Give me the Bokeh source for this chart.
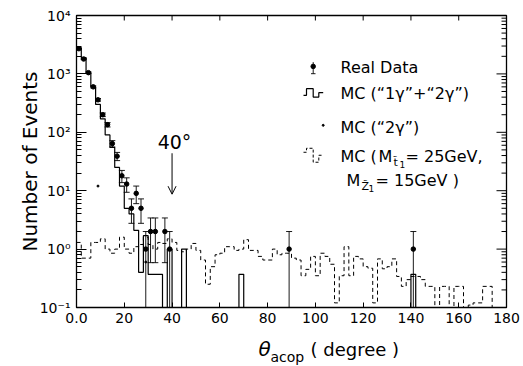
import numpy as np
from bokeh.plotting import figure
from bokeh.layouts import column
from bokeh.models import (FixedTicker, Whisker, TeeHead, ColumnDataSource, Label, Arrow,
                          OpenHead, Range1d)
from bokeh.embed import file_html
from bokeh.resources import INLINE

FONT = "DejaVu Sans"

# ---------------- data ----------------
bin_edges = list(range(0, 182, 2))  # 2-degree bins

# MC ("1gamma"+"2gamma"), per 2-degree bin (0 -> empty bin)
mc_total = [2800, 1900, 1050, 600, 300, 170, 90, 55, 25, 12,
            5, 4, 2.1, 0.4, 1.7, 0.37, 0.37, 0.37, 0, 1.0,
            0, 0, 1.0, 0, 0, 0, 0, 0, 0, 0,
            0, 0, 0, 0, 0.37, 0, 0, 0, 0, 0,
            0, 0, 0, 0, 0, 0, 0, 0, 0, 0,
            0, 0, 0, 0, 0, 0, 0, 0, 0, 0,
            0, 0, 0, 0, 0, 0, 0, 0, 0, 0,
            0.37, 0, 0, 0, 0, 0, 0, 0, 0, 0,
            0, 0, 0, 0, 0, 0, 0, 0, 0, 0]

# MC (M_stop = 25 GeV, M_Z1 = 15 GeV), per 2-degree bin
mc_susy = [1.3, 0.7, 0.7, 1.3, 1.3, 1.5, 1.0, 0.85, 1.0, 1.6,
           1.0, 0.85, 1.1, 1.2, 1.6, 1.2, 1.0, 1.3, 1.25, 1.5,
           1.3, 0.95, 0.9, 1.0, 1.25, 0.95, 0.65, 0.25, 0.5, 0.8,
           0.85, 1.1, 1.1, 0.95, 1.0, 1.45, 0.95, 0.95, 0.75, 0.65,
           0.65, 1.0, 0.8, 0.85, 0.85, 0.7, 0.65, 0.35, 0.45, 0.75,
           0.35, 0.85, 0.75, 0.55, 0.12, 0.35, 1.1, 0.35, 0.75, 0.68,
           0.5, 0.47, 0.12, 0.68, 0.46, 0.5, 0.68, 0.34, 0.23, 0.3,
           0.34, 0.34, 0.3, 0.23, 0.23, 0, 0.23, 0.23, 0, 0.23,
           0.23, 0, 0.11, 0.12, 0.12, 0.23, 0.23, 0.1, 0.1, 0.1]

# MC ("2gamma") : sparse points
mc_2g_x = [9, 29]
mc_2g_y = [12, 0.6]

# Real data (bin centres, counts)
data_x = [1, 3, 5, 7, 9, 11, 13, 15, 17, 19, 21, 23, 25, 27, 29, 31, 33, 37, 39, 89, 141]
data_n = [2700, 1800, 1050, 600, 360, 200, 135, 64, 39, 18, 13, 5, 9, 5, 1, 2, 2, 2, 1, 1, 1]

x_ticks = [0, 20, 40, 60, 80, 100, 120, 140, 160, 180]
y_ticks = [0.1, 1, 10, 100, 1000, 10000]
y_tick_labels = ["10\u207b\u00b9", "10\u2070", "10\u00b9", "10\u00b2", "10\u00b3", "10\u2074"]
y_minor = [m * d for d in [0.1, 1, 10, 100, 1000] for m in range(2, 10)]

X0, X1 = 0, 180
Y0, Y1 = 0.1, 1e4

W, H = 523, 366
H1 = 336                             # main figure height; a text strip fills the rest
FL, FR, FT, FB = 76, 506, 15, 307   # frame edges in page pixels
# ---------------- figure ----------------
p = figure(width=W, height=H1, y_axis_type="log",
           x_range=Range1d(X0, X1), y_range=Range1d(Y0, Y1),
           output_backend="svg", toolbar_location=None,
           min_border_left=FL, min_border_right=W - FR, min_border_top=FT, min_border_bottom=H1 - FB)
p.background_fill_color = "white"
p.border_fill_color = "white"
p.outline_line_color = "black"
p.outline_line_width = 1.3
p.xgrid.visible = False
p.ygrid.visible = False

EMPTY = 1e-4


def step_vals(vals):
    v = [x if x > 0 else EMPTY for x in vals]
    return v + [v[-1]]


# solid MC histogram
p.step(x=bin_edges, y=step_vals(mc_total), mode="after", line_color="black", line_width=1.2)
# dashed SUSY MC histogram
p.step(x=bin_edges, y=step_vals(mc_susy), mode="after", line_color="black", line_width=1.0,
       line_dash="4 3")
# 2 gamma MC
p.scatter(x=mc_2g_x, y=mc_2g_y, size=2, color="black")

# real data with sqrt(N) errors
n = np.array(data_n, dtype=float)
err = np.sqrt(n)
lower = np.where(n - err > 0, n - err, 0.01)
upper = n + err
src = ColumnDataSource(dict(x=data_x, y=data_n, lo=lower, hi=upper))
wh = Whisker(source=src, base="x", lower="lo", upper="hi", line_color="black", line_width=0.9,
             upper_head=TeeHead(size=6, line_color="black", line_width=0.9),
             lower_head=TeeHead(size=6, line_color="black", line_width=0.9))
p.add_layout(wh)
p.scatter(x="x", y="y", source=src, size=4.5, color="black")

# ---------------- axes ----------------
xa = p.xaxis[0]
xa.ticker = FixedTicker(ticks=x_ticks)
xa.major_label_overrides = {0: "0.0"}
xa.major_tick_in = 5
xa.major_tick_out = 0
xa.minor_tick_out = 0
xa.major_label_text_font = FONT
xa.major_label_text_color = "black"
xa.major_label_text_font_size = "14px"
xa.major_label_standoff = 5
xa.axis_line_color = "black"

ya = p.yaxis[0]
ya.ticker = FixedTicker(ticks=y_ticks, minor_ticks=y_minor)
ya.major_label_overrides = {t: l for t, l in zip(y_ticks, y_tick_labels)}
ya.major_tick_in = 10
ya.minor_tick_in = 5
ya.major_tick_out = 0
ya.minor_tick_out = 0
ya.major_label_text_font = FONT
ya.major_label_text_color = "black"
ya.major_label_text_font_size = "14px"
ya.major_label_standoff = 6
ya.axis_line_color = "black"
ya.axis_label = "Number of Events"
ya.axis_label_text_font = FONT
ya.axis_label_text_font_style = "normal"
ya.axis_label_text_font_size = "20px"
ya.axis_label_text_color = "black"
ya.axis_label_standoff = -5

# mirrored inward ticks on the top and right frame edges
px_per_deg = (FR - FL) / 180.0
px_per_dec = (FB - FT) / 5.0
top_len = 10 ** (4 - 5 / px_per_dec)
p.segment(x0=x_ticks, y0=[Y1] * len(x_ticks), x1=x_ticks, y1=[top_len] * len(x_ticks),
          line_color="black", line_width=1)
p.segment(x0=[X1] * len(y_ticks), y0=y_ticks, x1=[X1 - 10 / px_per_deg] * len(y_ticks), y1=y_ticks,
          line_color="black", line_width=1)
p.segment(x0=[X1] * len(y_minor), y0=y_minor, x1=[X1 - 5 / px_per_deg] * len(y_minor), y1=y_minor,
          line_color="black", line_width=1)

# ---------------- annotations ----------------
def sx(px):  # reference-pixel helper for decorations (data coords)
    return (px - FL) / px_per_deg


def sy(py):
    return 10 ** ((249.0 - py) / 58.5)


def txt(x, y, t, size="16px", align="left", style="normal", baseline="middle", fig=p):
    fig.add_layout(Label(x=x, y=y, text=t, text_font=FONT, text_font_size=size,
                         text_align=align, text_baseline=baseline, text_font_style=style,
                         text_color="black"))


# 40 degree arrow
p.add_layout(Arrow(x_start=40, y_start=sy(153), x_end=40, y_end=sy(194),
                   line_color="black", line_width=1.0,
                   end=OpenHead(size=8, line_color="black", line_width=1.0)))
txt(sx(174), sy(142), "40\u00b0", size="19px", align="center")

# legend
lx = sx(340)
txt(lx, sy(67), "Real Data")
p.scatter(x=[sx(312.7)], y=[sy(66)], size=4.5, color="black")
p.segment(x0=[sx(312.7)], y0=[sy(61.7)], x1=[sx(312.7)], y1=[sy(73.3)], line_color="black", line_width=0.9)
p.segment(x0=[sx(310.5)], y0=[sy(73.3)], x1=[sx(315)], y1=[sy(73.3)], line_color="black", line_width=0.9)

txt(lx, sy(93), "MC (\u201c1\u03b3\u201d+\u201c2\u03b3\u201d)")
p.line(x=[sx(v) for v in [303, 306, 306, 312.7, 312.7, 318.3, 318.3, 322.7]],
       y=[sy(v) for v in [95, 95, 88.3, 88.3, 96.7, 96.7, 92.3, 92.3]],
       line_color="black", line_width=1.2)

txt(lx, sy(127), "MC (\u201c2\u03b3\u201d)")
p.scatter(x=[sx(322.7)], y=[sy(125)], size=2, color="black")

txt(lx, sy(156), "MC (")
txt(sx(378), sy(156), "M")
txt(sx(393), sy(162), "t\u0303", size="11px")
txt(sx(399), sy(164), "1", size="9px")
txt(sx(405), sy(156), "= 25GeV,")
txt(sx(346), sy(180), "M")
txt(sx(361), sy(186), "Z\u0303", size="11px")
txt(sx(368), sy(188), "1", size="9px")
txt(sx(375), sy(180), "= 15GeV )")
p.line(x=[sx(v) for v in [303, 306, 306, 312.7, 312.7, 318.3, 318.3, 322.7]],
       y=[sy(v) for v in [152, 152, 148, 148, 162, 162, 155, 155]],
       line_color="black", line_width=1.0, line_dash="3 2")

# ---------------- x-axis title strip (page pixels as coordinates) ----------------
q = figure(width=W, height=H - H1, x_range=Range1d(FL, FR), y_range=Range1d(H, H1),
           output_backend="svg", toolbar_location=None, x_axis_location=None,
           y_axis_location=None, min_border_left=FL, min_border_right=W - FR,
           min_border_top=0, min_border_bottom=0)
q.outline_line_color = None
q.xgrid.visible = False
q.ygrid.visible = False
q.background_fill_color = "white"
q.border_fill_color = "white"
txt(258, 348, "\u03b8", size="20px", style="italic", fig=q)
txt(270, 356, "acop", size="14px", fig=q)
txt(310, 349, "( degree )", size="18px", fig=q)

open("out.html", "w").write(file_html(column(p, q, spacing=0), INLINE))
